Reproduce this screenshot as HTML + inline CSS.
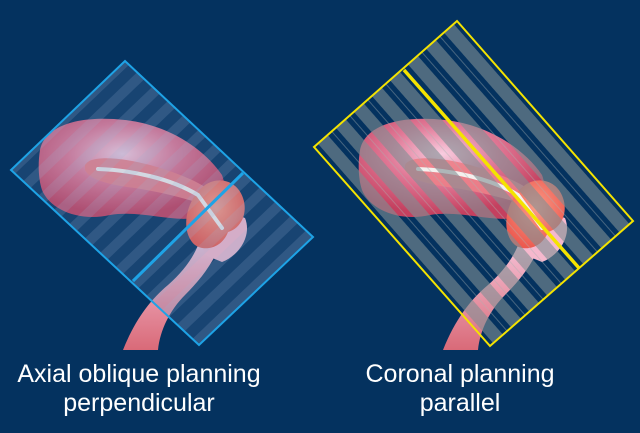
<!DOCTYPE html>
<html><head><meta charset="utf-8"><style>
html,body{margin:0;padding:0;background:#04325f;}
svg{display:block}
</style></head><body>
<svg width="640" height="433" viewBox="0 0 640 433" xmlns="http://www.w3.org/2000/svg">
<defs>
<radialGradient id="bg1" cx="0.45" cy="0.35" r="0.6">
<stop offset="0" stop-color="#f8cde0"/><stop offset="0.5" stop-color="#e07795"/><stop offset="1" stop-color="#c4405f"/>
</radialGradient>
<radialGradient id="cx" cx="0.5" cy="0.4" r="0.6">
<stop offset="0" stop-color="#fb9c88"/><stop offset="1" stop-color="#ec5a50"/>
</radialGradient>
<linearGradient id="vg" x1="0" y1="0" x2="0" y2="1">
<stop offset="0" stop-color="#f7c6dc"/><stop offset="1" stop-color="#d96a78"/>
</linearGradient>
<g id="ut">
<path d="M123,350 C135,320 150,300 168,285 C185,270 195,255 200,240 L222,238 C215,262 200,280 185,295 C170,310 160,330 158,350 Z" fill="url(#vg)"/>
<path d="M198,232 C212,222 232,212 245,218 C252,235 240,255 222,262 L205,255 Z" fill="#f5b8cd"/>
<path d="M40,150 C45,125 80,115 125,120 C170,125 205,150 222,175 C230,195 215,215 195,218 C170,222 140,210 110,215 C80,222 50,210 42,190 C38,178 38,162 40,150 Z" fill="url(#bg1)"/>
<path d="M85,165 C90,155 120,157 150,165 C175,172 195,180 210,190 L205,205 C185,198 160,192 135,188 C110,185 90,180 85,170 Z" fill="#ec8088" opacity="0.9"/>
<path d="M205,185 C220,175 238,182 243,198 C248,212 242,228 228,232 C222,248 205,252 195,245 C180,232 185,200 205,185 Z" fill="url(#cx)"/>
<path d="M98,169 C130,170 170,178 198,195 L222,228" stroke="#f4f0ee" stroke-width="4" fill="none" stroke-linecap="round"/>
</g>
<pattern id="pb" patternUnits="userSpaceOnUse" width="21" height="21" patternTransform="rotate(46.3)">
<rect width="21" height="21" fill="#5e86b8" opacity="0.22"/>
<rect width="10" height="21" fill="#9ab4d4" opacity="0.18"/>
</pattern>
<pattern id="py" patternUnits="userSpaceOnUse" width="24" height="24" patternTransform="rotate(-41.3)">
<rect width="13" height="24" fill="#7f8f94" opacity="0.6"/>
<line x1="18.5" y1="0" x2="18.5" y2="24" stroke="#a9b1b1" stroke-width="0.8" opacity="0.5"/>
</pattern>
</defs>
<rect width="640" height="433" fill="#04325f"/>
<use href="#ut"/>
<polygon points="125,61 313,237 199,345 11,170" fill="url(#pb)" stroke="#1ea3e6" stroke-width="2"/>
<line x1="243" y1="173" x2="133" y2="281" stroke="#1ea3e6" stroke-width="3"/>
<use href="#ut" transform="translate(320,0)"/>
<polygon points="457,21 633,221 490,346 314,147" fill="url(#py)" stroke="#f4e300" stroke-width="2"/>
<line x1="404" y1="70" x2="579" y2="268" stroke="#f4e300" stroke-width="3.5"/>
<g font-family="Liberation Sans, sans-serif" font-size="25" fill="#fff" text-anchor="middle">
<text x="139" y="382">Axial oblique planning</text>
<text x="139" y="411">perpendicular</text>
<text x="460" y="382">Coronal planning</text>
<text x="460" y="411">parallel</text>
</g>
</svg>
</body></html>
